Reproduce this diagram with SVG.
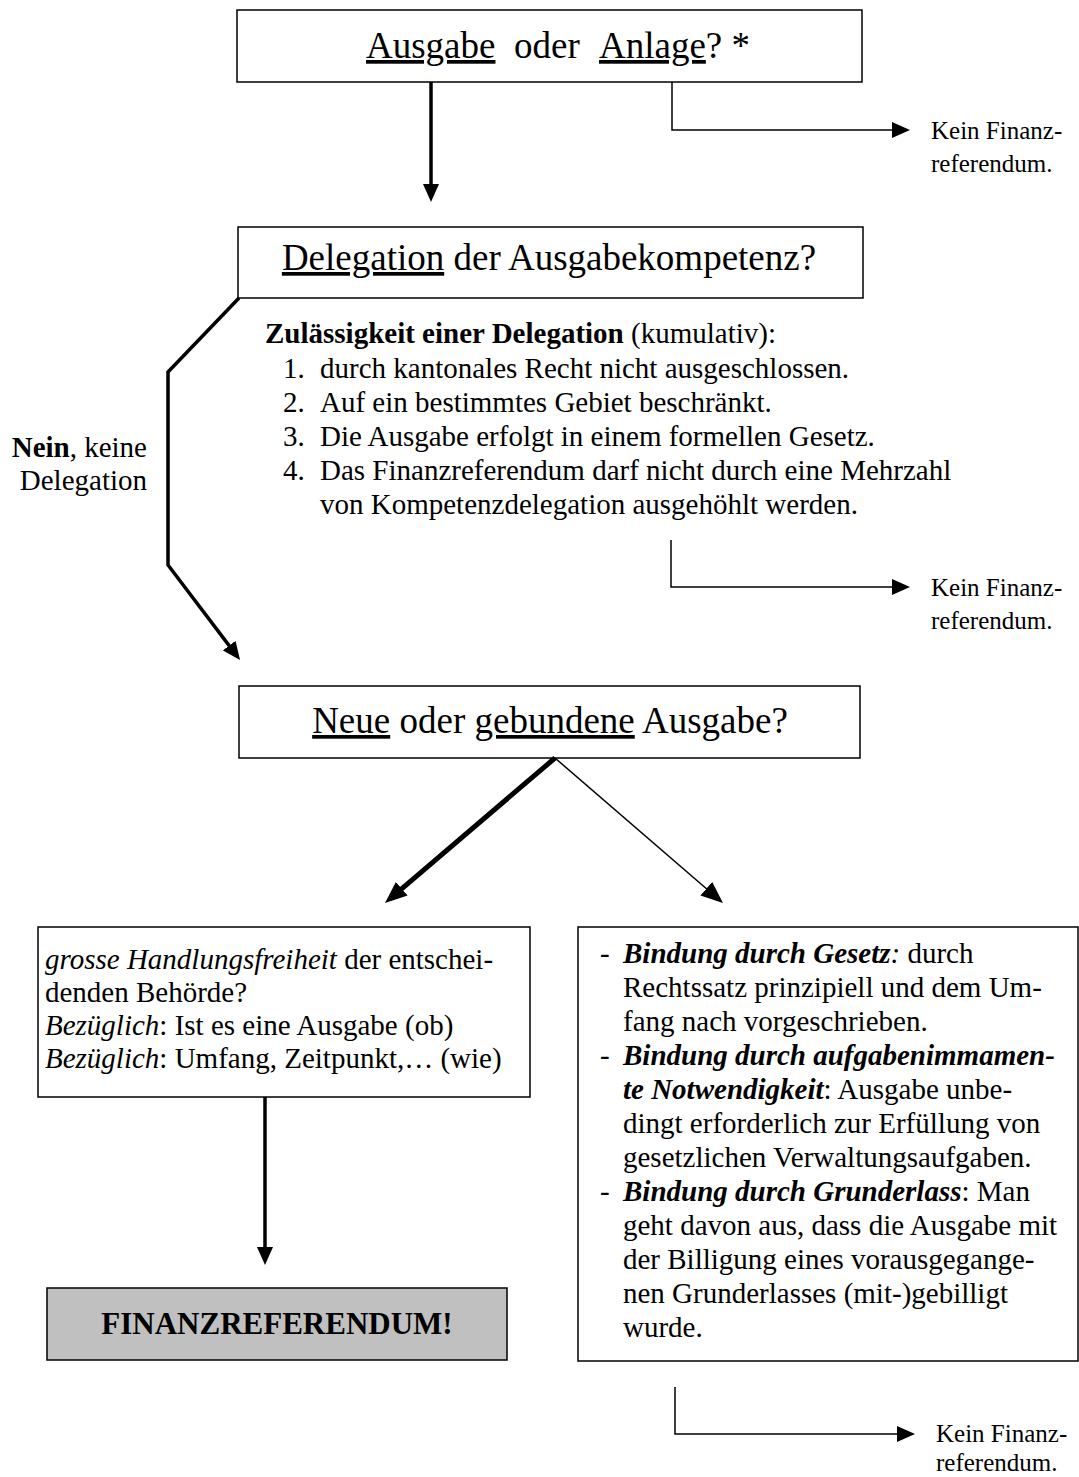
<svg xmlns="http://www.w3.org/2000/svg" width="1079" height="1477" viewBox="0 0 1079 1477">
<style>
.box{fill:#fff;stroke:#000;stroke-width:1.5}
.grey{fill:#c0c0c0;stroke:#000;stroke-width:1.5}
text{font-family:"Liberation Serif","Times New Roman",serif;fill:#000}
.h{font-size:37px}
.b{font-size:29px}
.k{font-size:25px}
.u{text-decoration:underline}
.i{font-style:italic}
.bd{font-weight:bold}
.bi{font-weight:bold;font-style:italic}
.thin{fill:none;stroke:#000;stroke-width:1.5}
.mid{fill:none;stroke:#000;stroke-width:3.5}
.thick{fill:none;stroke:#000;stroke-width:5}
</style>
<defs>
<marker id="ah" markerUnits="userSpaceOnUse" markerWidth="18" markerHeight="16" refX="10" refY="8" orient="auto"><path d="M0,0 L18,8 L0,16 z" fill="#000"/></marker>
<marker id="ahL" markerUnits="userSpaceOnUse" markerWidth="22" markerHeight="18" refX="14" refY="9" orient="auto"><path d="M0,0 L22,9 L0,18 z" fill="#000"/></marker>
</defs>

<g id="node-ausgabe">
<rect class="box" x="237" y="10" width="625" height="72"/>
<text class="h" y="58"><tspan x="366" class="u">Ausgabe</tspan><tspan x="514">oder</tspan><tspan x="599" class="u">Anlage</tspan><tspan>? *</tspan></text>
</g>

<g id="node-kein1">
<text class="k" x="931" y="139">Kein Finanz-</text>
<text class="k" x="931" y="172">referendum.</text>
</g>

<g id="node-delegation">
<rect class="box" x="238" y="227" width="625" height="71"/>
<text class="h" x="549" y="270" text-anchor="middle"><tspan class="u">Delegation</tspan> der Ausgabekompetenz?</text>
</g>

<g id="node-zulaessigkeit">
<text class="b" x="265" y="343"><tspan class="bd">Zulässigkeit einer Delegation</tspan> (kumulativ):</text>
<text class="b" x="283" y="378">1.</text><text class="b" x="320" y="378">durch kantonales Recht nicht ausgeschlossen.</text>
<text class="b" x="283" y="412">2.</text><text class="b" x="320" y="412">Auf ein bestimmtes Gebiet beschränkt.</text>
<text class="b" x="283" y="446">3.</text><text class="b" x="320" y="446">Die Ausgabe erfolgt in einem formellen Gesetz.</text>
<text class="b" x="283" y="480">4.</text><text class="b" x="320" y="480">Das Finanzreferendum darf nicht durch eine Mehrzahl</text>
<text class="b" x="320" y="514">von Kompetenzdelegation ausgehöhlt werden.</text>
</g>

<g id="node-nein">
<text class="b" x="147" y="457" text-anchor="end"><tspan class="bd">Nein</tspan>, keine</text>
<text class="b" x="147" y="490" text-anchor="end">Delegation</text>
</g>

<g id="node-kein2">
<text class="k" x="931" y="596">Kein Finanz-</text>
<text class="k" x="931" y="629">referendum.</text>
</g>

<g id="node-neue">
<rect class="box" x="239" y="686" width="621" height="72"/>
<text class="h" x="550" y="733" text-anchor="middle"><tspan class="u">Neue</tspan> oder <tspan class="u">gebundene</tspan> Ausgabe?</text>
</g>

<g id="node-neu">
<rect class="box" x="38" y="927" width="492" height="170"/>
<text class="b" x="45" y="969"><tspan class="i">grosse Handlungsfreiheit</tspan> der entschei-</text>
<text class="b" x="45" y="1002">denden Behörde?</text>
<text class="b" x="45" y="1035"><tspan class="i">Bezüglich</tspan>: Ist es eine Ausgabe (ob)</text>
<text class="b" x="45" y="1068"><tspan class="i">Bezüglich</tspan>: Umfang, Zeitpunkt,… (wie)</text>
</g>

<g id="node-finanzreferendum">
<rect class="grey" x="47" y="1288" width="460" height="72"/>
<text class="bd" x="277" y="1334" text-anchor="middle" font-size="31">FINANZREFERENDUM!</text>
</g>

<g id="node-gebunden">
<rect class="box" x="578" y="927" width="500" height="434"/>
<text class="b" x="600" y="963">-</text>
<text class="b" x="623" y="963"><tspan class="bi">Bindung durch Gesetz</tspan><tspan class="i">:</tspan> durch</text>
<text class="b" x="623" y="997">Rechtssatz prinzipiell und dem Um-</text>
<text class="b" x="623" y="1031">fang nach vorgeschrieben.</text>
<text class="b" x="600" y="1065">-</text>
<text class="b" x="623" y="1065"><tspan class="bi">Bindung durch aufgabenimmamen-</tspan></text>
<text class="b" x="623" y="1099"><tspan class="bi">te Notwendigkeit</tspan>: Ausgabe unbe-</text>
<text class="b" x="623" y="1133">dingt erforderlich zur Erfüllung von</text>
<text class="b" x="623" y="1167">gesetzlichen Verwaltungsaufgaben.</text>
<text class="b" x="600" y="1201">-</text>
<text class="b" x="623" y="1201"><tspan class="bi">Bindung durch Grunderlass</tspan>: Man</text>
<text class="b" x="623" y="1235">geht davon aus, dass die Ausgabe mit</text>
<text class="b" x="623" y="1269">der Billigung eines vorausgegange-</text>
<text class="b" x="623" y="1303">nen Grunderlasses (mit-)gebilligt</text>
<text class="b" x="623" y="1337">wurde.</text>
</g>

<g id="node-kein3">
<text class="k" x="936" y="1442">Kein Finanz-</text>
<text class="k" x="936" y="1471">referendum.</text>
</g>

<g id="connectors">
<line class="mid" x1="431" y1="82" x2="431" y2="194" marker-end="url(#ah)"/>
<polyline class="thin" points="672,82 672,130 902,130" marker-end="url(#ah)"/>
<polyline class="mid" points="239,298 168,372 168,565 235.2,653.6" marker-end="url(#ah)"/>
<polyline class="thin" points="671,540 671,587 902,587" marker-end="url(#ah)"/>
<line class="thick" x1="555" y1="758" x2="391.1" y2="897.8" marker-end="url(#ahL)"/>
<line class="thin" x1="555" y1="758" x2="716.9" y2="897.8" marker-end="url(#ahL)"/>
<line class="mid" x1="265" y1="1097" x2="265" y2="1257" marker-end="url(#ah)"/>
<polyline class="thin" points="675,1387 675,1434 907,1434" marker-end="url(#ah)"/>
</g>
</svg>
